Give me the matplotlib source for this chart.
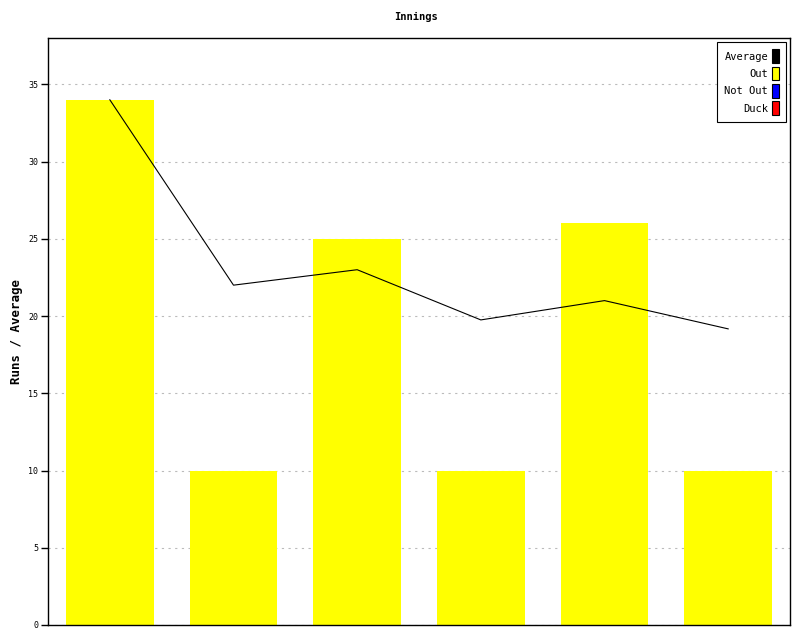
import matplotlib
matplotlib.use("Agg")
import matplotlib.pyplot as plt
from matplotlib.patches import Patch
import numpy as np

innings = ["1", "2", "3", "4", "5", "6"]
runs = [34, 10, 25, 10, 26, 10]
average = [34, 22, 23, 19.75, 21, 19.17]
y_ticks = [0, 5, 10, 15, 20, 25, 30, 35]
legend_labels = ["Average", "Out", "Not Out", "Duck"]
legend_colors = ["#000000", "#ffff00", "#0000ff", "#ff0000"]

plt.rcParams['font.family'] = ['DejaVu Sans Mono']

fig = plt.figure(figsize=(8, 6.4), dpi=100)
ax = fig.add_axes([48/800, 15/640, 742/800, 587/640])

x = np.arange(len(runs))
ax.bar(x, runs, width=0.71, color="#ffff00", zorder=2)
ax.plot(x, average, color="black", linewidth=0.8, zorder=3)

ax.set_xlim(-0.5, len(runs) - 0.5)
ax.set_ylim(0, 38)
ax.set_yticks(y_ticks)
ax.set_yticklabels([str(t) for t in y_ticks], fontsize=6)
ax.set_xticks([])
ax.tick_params(axis='y', length=5, width=1, pad=2)
ax.yaxis.grid(True, linestyle=(0, (2, 4)), color="#bbbbbb", linewidth=0.8, zorder=0)
ax.set_axisbelow(True)
for s in ax.spines.values():
    s.set_linewidth(1)

ax.set_ylabel("Runs / Average", fontsize=9, fontweight="bold", labelpad=4)
fig.text(0.52, 0.974, "Innings", ha="center", va="center", fontsize=7.5, fontweight="bold")

handles = [Patch(facecolor=c, edgecolor="black", linewidth=0.8) for c in legend_colors]
leg = ax.legend(handles, legend_labels, loc="upper right", markerfirst=False,
                fontsize=7.5, handlelength=0.6, handleheight=1.6, handletextpad=0.4,
                labelspacing=0.38, borderpad=0.7, fancybox=False, framealpha=1,
                edgecolor="black", borderaxespad=0.4)
leg.get_frame().set_linewidth(0.8)

fig.savefig("out.png", dpi=100)
